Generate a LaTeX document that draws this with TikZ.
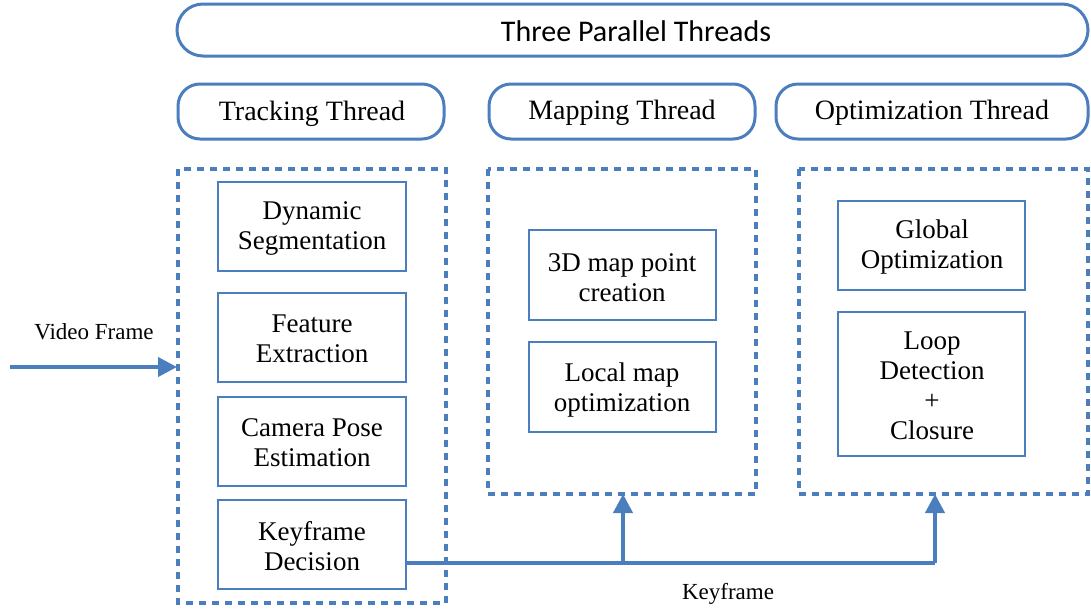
\documentclass[tikz,border=0pt]{standalone}
\usepackage{fontspec}
\setmainfont{Liberation Serif}
\newfontfamily\titlefont{Carlito}
\usetikzlibrary{arrows.meta}
\definecolor{threadblue}{HTML}{4A7EBF}
\begin{document}
\begin{tikzpicture}[x=1pt,y=-1pt,
  pill/.style={draw=threadblue,line width=3pt,rounded corners=22pt},
  group/.style={draw=threadblue,line width=3.2pt,dash pattern=on 7pt off 6pt},
  stage/.style={draw=threadblue,line width=1.2pt,align=center,
    font=\fontsize{27}{30}\selectfont},
  flow/.style={draw=threadblue,line width=4pt,-{Triangle[length=19pt,width=19pt]}},
  wire/.style={draw=threadblue,line width=4pt},
  label/.style={font=\fontsize{23}{26}\selectfont},
  head/.style={font=\fontsize{28}{32}\selectfont}]
\useasboundingbox (0,0) rectangle (1091,611);

% header pills
\draw[pill,rounded corners=26pt] (177,4) rectangle (1088,56);
\node[font=\titlefont\fontsize{30}{34}\selectfont] (title) at (636,31) {Three Parallel Threads};
\draw[pill] (178,84) rectangle (444,139);
\node[head] (trk) at (312,114) {Tracking Thread};
\draw[pill] (489,84) rectangle (755,139);
\node[head] (map) at (622,113) {Mapping Thread};
\draw[pill] (776,84) rectangle (1088,139);
\node[head] (opt) at (932,113) {Optimization Thread};

% dashed thread containers
\draw[group] (178,169) rectangle (446,603);
\draw[group] (488,169) rectangle (756,494);
\draw[group] (799,169) rectangle (1088,494);

% tracking stages
\draw[stage] (218,182) rectangle (406,271);
\node[stage,draw=none] (dyn) at (312,228) {Dynamic\\Segmentation};
\draw[stage] (218,293) rectangle (406,382);
\node[stage,draw=none] (feat) at (312,339) {Feature\\Extraction};
\draw[stage] (218,397) rectangle (406,486);
\node[stage,draw=none] (pose) at (312,443) {Camera Pose\\Estimation};
\draw[stage] (218,500) rectangle (406,589);
\coordinate (kfR) at (406,563);
\node[stage,draw=none] (kf) at (312,546) {Keyframe\\Decision};

% mapping stages
\draw[stage] (529,230) rectangle (716,320);
\node[stage,draw=none] (mp) at (622,278) {3D map point\\creation};
\draw[stage] (529,342) rectangle (716,432);
\node[stage,draw=none] (lm) at (622,390) {Local map\\optimization};

% optimization stages
\draw[stage] (838,201) rectangle (1025,290);
\node[stage,draw=none] (go) at (932,247) {Global\\Optimization};
\draw[stage] (838,312) rectangle (1025,456);
\node[stage,draw=none] (loop) at (932,386) {Loop\\Detection\\+\\Closure};

% video frame input
\coordinate (vin) at (10,367);
\coordinate (vout) at (177,367);
\draw[flow] (vin) -- (vout);
\node[label] (vf) at (94,332) {Video Frame};

% keyframe distribution
\coordinate (j1) at (623,563);
\coordinate (j2) at (935,563);
\coordinate (m1) at (623,494);
\coordinate (m2) at (935,494);
\draw[wire] (kfR) -- (j2);
\draw[flow] (j1) -- (m1);
\draw[flow] (j2) -- (m2);
\node[label] (kfl) at (728,594) {Keyframe};
\end{tikzpicture}
\end{document}
